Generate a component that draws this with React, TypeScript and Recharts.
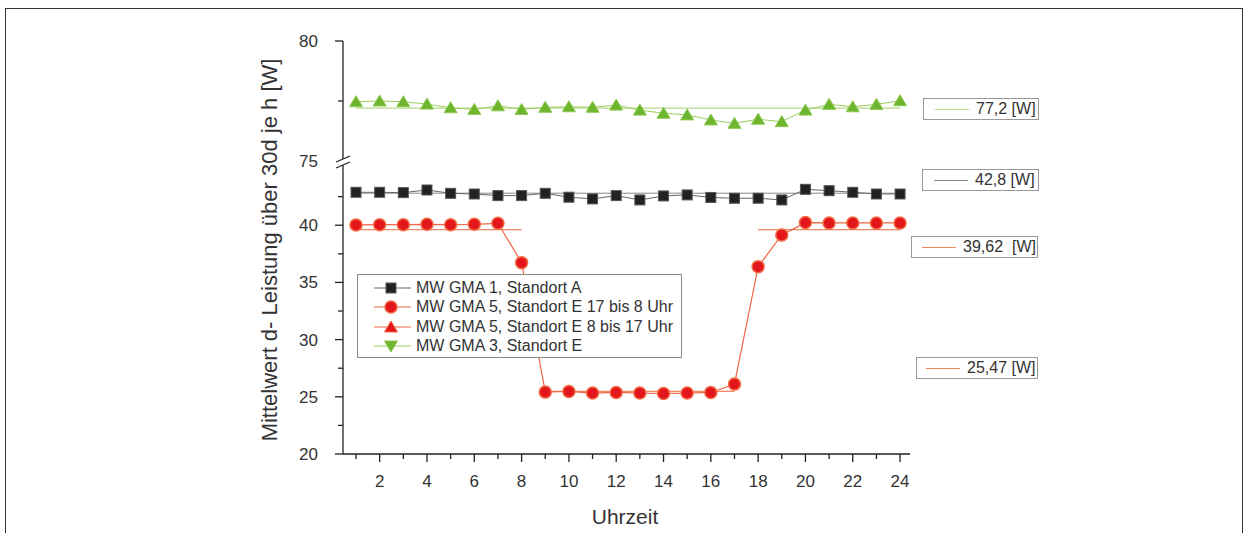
import { LineChart, Line, XAxis, YAxis, ReferenceLine, Legend } from 'recharts'

// hourly means (Uhrzeit 1..24)
const hours = [1, 2, 3, 4, 5, 6, 7, 8, 9, 10, 11, 12, 13, 14, 15, 16, 17, 18, 19, 20, 21, 22, 23, 24]

const gma1StandortA = [
  42.88, 42.88, 42.85, 43.08, 42.79, 42.73, 42.59, 42.59, 42.79, 42.45, 42.3, 42.59,
  42.21, 42.56, 42.65, 42.43, 42.36, 42.36, 42.21, 43.14, 43.02, 42.88, 42.73, 42.73,
]
const gma5StandortE = [
  40.03, 40.05, 40.05, 40.08, 40.05, 40.08, 40.17, 36.73, 25.41, 25.47, 25.33, 25.38,
  25.33, 25.29, 25.33, 25.38, 26.11, 36.38, 39.15, 40.23, 40.2, 40.2, 40.2, 40.2,
]
const gma3StandortE = [
  77.47, 77.5, 77.47, 77.37, 77.22, 77.15, 77.3, 77.15, 77.24, 77.26, 77.24, 77.33,
  77.12, 76.99, 76.92, 76.71, 76.57, 76.74, 76.64, 77.12, 77.36, 77.26, 77.36, 77.51,
]

// overall means and the hour ranges they cover
const meanGma3 = { value: 77.2, from: 1, to: 24 }
const meanGma1 = { value: 42.8, from: 1, to: 24 }
const meanGma5Night = [
  { value: 39.62, from: 1, to: 8 },
  { value: 39.62, from: 18, to: 24 },
]
const meanGma5Day = { value: 25.47, from: 9, to: 17 }

const yTicksUpper = [75, 77.5, 80]
const yTicksLower = [20, 22.5, 25, 27.5, 30, 32.5, 35, 37.5, 40, 42.5]

const legendLabels = [
  'MW GMA 1, Standort A',
  'MW GMA 5, Standort E 17 bis 8 Uhr',
  'MW GMA 5, Standort E 8 bis 17 Uhr',
  'MW GMA 3, Standort E',
]

const rows = hours.map((h, i) => ({
  hour: h,
  gma1: gma1StandortA[i],
  gma5: gma5StandortE[i],
  gma3: gma3StandortE[i],
}))

const FONT = '"Liberation Sans", Arial, Helvetica, sans-serif'
const TEXT = '#333'
const AXIS = '#222'
const X_DOMAIN: [number, number] = [0.45, 24.42]
const MARGIN_X = { left: 283, right: 340 }

const C = {
  black: '#222',
  blackLine: '#666',
  blackMean: '#8a8a8a',
  red: '#e3161c',
  redEdge: '#f26a44',
  redLine: '#ef6642',
  redMean: '#f28562',
  green: '#6cb52d',
  greenEdge: '#8cc850',
  greenLine: '#9ccb5c',
  greenMean: '#b6d98c',
}

const fmt = (v: number) => String(v).replace('.', ',')

const Square = ({ cx, cy }: { cx: number; cy: number }) => (
  <rect x={cx - 5} y={cy - 5} width={10} height={10} fill={C.black} stroke="#555" strokeWidth={1} />
)
const Circle = ({ cx, cy }: { cx: number; cy: number }) => (
  <circle cx={cx} cy={cy} r={6} fill={C.red} stroke={C.redEdge} strokeWidth={1.5} />
)
const TriUp = ({ cx, cy, color = C.green, edge = C.greenEdge }: any) => (
  <polygon points={`${cx},${cy - 6} ${cx - 6.5},${cy + 5} ${cx + 6.5},${cy + 5}`} fill={color} stroke={edge} strokeWidth={1} />
)
const TriDown = ({ cx, cy }: { cx: number; cy: number }) => (
  <polygon points={`${cx},${cy + 6} ${cx - 6.5},${cy - 5} ${cx + 6.5},${cy - 5}`} fill={C.green} stroke={C.greenEdge} strokeWidth={1} />
)

const dotWith = (Shape: any) => (props: any) => {
  const { cx, cy, index } = props
  if (cx == null || cy == null) return <g key={index} />
  return <Shape key={index} cx={cx} cy={cy} />
}

// y ticks: long tick + label on multiples of 5, short tick otherwise
const YTick = ({ x, y, payload, skip }: any) => {
  const v = payload.value
  const major = v % 5 === 0
  return (
    <g>
      {v !== skip && <line x1={x} x2={x - (major ? 8 : 5)} y1={y} y2={y} stroke={AXIS} strokeWidth={1.3} />}
      {major && (
        <text x={x - 25} y={y} dy={6} textAnchor="end" fill={TEXT} fontSize={17} fontFamily={FONT}>
          {v}
        </text>
      )}
    </g>
  )
}

const XTick = ({ x, y, payload }: any) => {
  const v = payload.value
  const major = v % 2 === 0
  return (
    <g>
      <line x1={x} x2={x} y1={y} y2={y + (major ? 8 : 5)} stroke={AXIS} strokeWidth={1.3} />
      {major && (
        <text x={x} y={y + 33} textAnchor="middle" fill={TEXT} fontSize={17} fontFamily={FONT}>
          {v}
        </text>
      )}
    </g>
  )
}

const legendItems = [
  { label: legendLabels[0], color: C.blackLine, Shape: Square },
  { label: legendLabels[1], color: C.redLine, Shape: Circle },
  { label: legendLabels[2], color: C.redLine, Shape: (p: any) => <TriUp {...p} color={C.red} edge={C.redEdge} /> },
  { label: legendLabels[3], color: C.greenLine, Shape: TriDown },
]

const LegendBox = () => (
  <div
    style={{
      width: 323,
      height: 79,
      border: '1px solid #8a8a8a',
      background: '#fff',
      fontFamily: FONT,
      fontSize: 16,
      color: TEXT,
      paddingTop: 3,
      boxSizing: 'content-box',
    }}
  >
    {legendItems.map(({ label, color, Shape }) => (
      <div key={label} style={{ display: 'flex', alignItems: 'center', height: 19.5 }}>
        <svg width={58} height={20} style={{ flex: 'none' }}>
          <line x1={16} x2={53} y1={10} y2={10} stroke={color} strokeWidth={1.2} />
          <Shape cx={33} cy={10} />
        </svg>
        <span style={{ whiteSpace: 'nowrap' }}>{label}</span>
      </div>
    ))}
  </div>
)

const ValueBox = ({ left, top, width, lineFrom, color, value, gap = ' ' }: any) => (
  <div
    style={{
      position: 'absolute',
      left,
      top,
      width,
      height: 22,
      border: '1px solid #999',
      background: '#fff',
      fontFamily: FONT,
      fontSize: 16,
      color: TEXT,
      boxSizing: 'border-box',
    }}
  >
    <svg style={{ position: 'absolute', left: lineFrom, top: 0 }} width={34} height={20}>
      <line x1={0} x2={34} y1={10.5} y2={10.5} stroke={color} strokeWidth={1} />
    </svg>
    <span style={{ position: 'absolute', left: lineFrom + 41, top: 0, lineHeight: '20px', whiteSpace: 'pre' }}>
      {`${fmt(value)}${gap}[W]`}
    </span>
  </div>
)

const segment = (m: { value: number; from: number; to: number }) => [
  { x: m.from, y: m.value },
  { x: m.to, y: m.value },
]

export default function App() {
  return (
    <div style={{ position: 'absolute', left: 0, top: 0, width: 1250, height: 533, overflow: 'hidden', background: '#fff' }}>
      <div
        style={{
          position: 'absolute',
          left: 5,
          top: 8,
          width: 1238,
          height: 600,
          border: '1px solid #333',
          boxSizing: 'border-box',
        }}
      />

      {/* lower section 20..45 */}
      <div style={{ position: 'absolute', left: 0, top: 0 }}>
        <LineChart width={1250} height={533} data={rows} margin={{ top: 163, right: MARGIN_X.right, bottom: 9, left: MARGIN_X.left }}>
          <XAxis
            dataKey="hour"
            type="number"
            domain={X_DOMAIN}
            ticks={hours}
            interval={0}
            height={70}
            tickLine={false}
            tickSize={0}
            tickMargin={0}
            stroke={AXIS}
            strokeWidth={1.3}
            tick={<XTick />}
          />
          <YAxis
            type="number"
            domain={[20, 45.44]}
            ticks={yTicksLower}
            interval={0}
            width={60}
            allowDataOverflow
            tickLine={false}
            tickSize={0}
            tickMargin={0}
            stroke={AXIS}
            strokeWidth={1.3}
            tick={<YTick />}
          />
          <ReferenceLine segment={segment(meanGma1)} stroke={C.blackMean} strokeWidth={1} />
          {meanGma5Night.map((m) => (
            <ReferenceLine key={m.from} segment={segment(m)} stroke={C.redMean} strokeWidth={1.2} />
          ))}
          <ReferenceLine segment={segment(meanGma5Day)} stroke={C.redMean} strokeWidth={1.2} />
          <Line dataKey="gma1" stroke={C.blackLine} strokeWidth={1} dot={dotWith(Square)} activeDot={false} isAnimationActive={false} />
          <Line dataKey="gma5" stroke={C.redLine} strokeWidth={1.2} dot={dotWith(Circle)} activeDot={false} isAnimationActive={false} />
          <Legend
            layout="horizontal"
            verticalAlign="middle"
            align="center"
            content={<LegendBox />}
            wrapperStyle={{ left: 357, top: 274, width: 325 }}
          />
        </LineChart>
      </div>

      {/* upper section 75..80 */}
      <div style={{ position: 'absolute', left: 0, top: 0 }}>
        <LineChart width={1250} height={175} data={rows} margin={{ top: 41, right: MARGIN_X.right, bottom: 14, left: MARGIN_X.left }}>
          <XAxis dataKey="hour" type="number" domain={X_DOMAIN} hide />
          <YAxis
            type="number"
            domain={[75, 80]}
            ticks={yTicksUpper}
            interval={0}
            width={60}
            tickLine={false}
            tickSize={0}
            tickMargin={0}
            stroke={AXIS}
            strokeWidth={1.3}
            tick={<YTick skip={75} />}
          />
          <ReferenceLine segment={segment(meanGma3)} stroke={C.greenMean} strokeWidth={1.2} />
          <Line dataKey="gma3" stroke={C.greenLine} strokeWidth={1} dot={dotWith(TriUp)} activeDot={false} isAnimationActive={false} />
        </LineChart>
      </div>

      {/* axis break */}
      <svg style={{ position: 'absolute', left: 0, top: 0 }} width={1250} height={533} pointerEvents="none">
        <rect x={340} y={159} width={6} height={6} fill="#fff" />
        <line x1={336} y1={162} x2={350} y2={156} stroke={AXIS} strokeWidth={1.3} />
        <line x1={336} y1={168} x2={350} y2={162} stroke={AXIS} strokeWidth={1.3} />
      </svg>

      <ValueBox left={923} top={98} width={116} lineFrom={11} color={C.greenMean} value={meanGma3.value} />
      <ValueBox left={922} top={169} width={117} lineFrom={11} color={C.blackMean} value={meanGma1.value} />
      <ValueBox left={911} top={236} width={127} lineFrom={10} color={C.redMean} value={meanGma5Night[0].value} gap="  " />
      <ValueBox left={916} top={357} width={122} lineFrom={9} color={C.redMean} value={meanGma5Day.value} />

      <div
        style={{
          position: 'absolute',
          left: 270,
          top: 250,
          transform: 'translate(-50%, -50%) rotate(-90deg)',
          whiteSpace: 'nowrap',
          fontFamily: FONT,
          fontSize: 22,
          color: TEXT,
        }}
      >
        Mittelwert d- Leistung über 30d je h [W]
      </div>
      <div
        style={{
          position: 'absolute',
          left: 625,
          top: 517,
          transform: 'translate(-50%, -50%)',
          whiteSpace: 'nowrap',
          fontFamily: FONT,
          fontSize: 21,
          color: TEXT,
        }}
      >
        Uhrzeit
      </div>
    </div>
  )
}
